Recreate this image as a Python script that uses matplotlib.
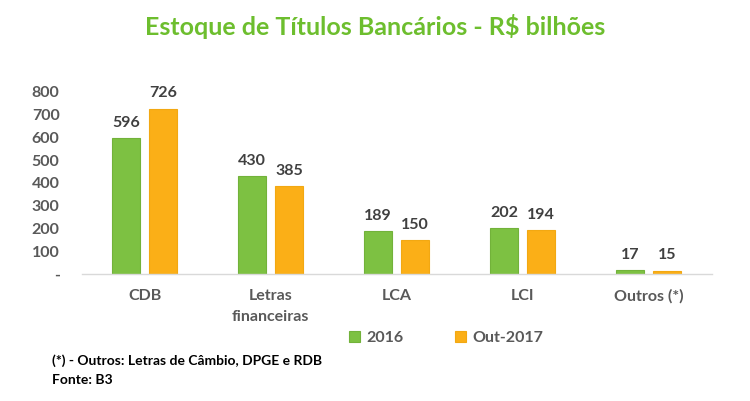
import matplotlib
matplotlib.use("Agg")
import matplotlib.pyplot as plt
import numpy as np

categories = ["CDB", "Letras\nfinanceiras", "LCA", "LCI", "Outros (*)"]
series_2016 = [596, 430, 189, 202, 17]
series_2017 = [726, 385, 150, 194, 15]
series_names = ["2016", "Out-2017"]
yticks = [0, 100, 200, 300, 400, 500, 600, 700, 800]
ytick_labels = ["-", "100", "200", "300", "400", "500", "600", "700", "800"]

plt.rcParams['font.family'] = ['Lato', 'DejaVu Sans']
plt.rcParams['font.weight'] = 'bold'

green = "#7DC142"
orange = "#FBAF17"
gray = "#595959"

fig = plt.figure(figsize=(7.5, 4.01), dpi=100)
ax = fig.add_axes([0.109, 0.3167, 0.840, 0.4539])

x = np.arange(len(categories))
w = 0.22
off = 0.147
b1 = ax.bar(x - off, series_2016, w, color=green, edgecolor="#72B23A", linewidth=0.8, label=series_names[0])
b2 = ax.bar(x + off, series_2017, w, color=orange, edgecolor="#F2A812", linewidth=0.8, label=series_names[1])
for bars in (b1, b2):
    for r in bars:
        ax.annotate(f"{int(r.get_height())}", (r.get_x() + r.get_width() / 2, r.get_height()),
                    xytext=(0, 6), textcoords="offset points", ha="center", va="bottom",
                    fontsize=11.5, fontweight="bold", color="#404040")

ax.set_xlim(-0.5, len(categories) - 0.5)
ax.set_ylim(0, 800)
ax.set_yticks(yticks)
ax.set_yticklabels(ytick_labels, fontsize=11.5, fontweight="bold", color=gray)
ax.set_xticks(x)
ax.set_xticklabels(categories, fontsize=11.5, fontweight="bold", color=gray, linespacing=1.6)
ax.tick_params(axis="both", length=0)
ax.tick_params(axis="y", pad=16)
ax.tick_params(axis="x", pad=11)
for s in ["top", "right", "left"]:
    ax.spines[s].set_visible(False)
ax.spines["bottom"].set_color("#D9D9D9")
ax.spines["bottom"].set_linewidth(1)

fig.text(0.5, 0.935, "Estoque de Títulos Bancários - R$ bilhões", ha="center", va="center",
         fontsize=18, fontweight="bold", color="#6DBE2E")

leg = fig.legend(handles=[b1, b2], labels=series_names, loc="center", bbox_to_anchor=(0.595, 0.157),
                 ncol=2, frameon=False, fontsize=11.5, handlelength=0.7, handleheight=0.7,
                 columnspacing=3.2, handletextpad=0.4)
for t in leg.get_texts():
    t.set_color(gray)
    t.set_fontweight("bold")

fig.text(0.069, 0.1, "(*) - Outros: Letras de Câmbio, DPGE e RDB", ha="left", va="center",
         fontsize=10, fontweight="bold", color="black")
fig.text(0.069, 0.053, "Fonte: B3", ha="left", va="center",
         fontsize=10, fontweight="bold", color="black")

fig.savefig("out.png", dpi=100)
